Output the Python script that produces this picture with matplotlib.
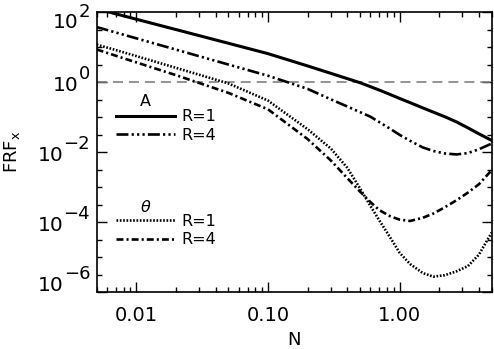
import matplotlib
matplotlib.use("Agg")
import matplotlib.pyplot as plt
import numpy as np
from matplotlib.ticker import FixedLocator, FixedFormatter, NullFormatter, LogLocator

plt.rcParams["font.family"] = ["DejaVu Sans"]
plt.rcParams["lines.scale_dashes"] = False

# frequency N
n_vals = [0.005, 0.007, 0.01, 0.02, 0.05, 0.1, 0.2, 0.3, 0.4, 0.5, 0.6, 0.7,
          0.85, 1.0, 1.2, 1.5, 1.8, 2.2, 2.7, 3.3, 4.0, 5.0]

# FRF_x
amp_r1 = [123, 88.5, 62.2, 31.5, 12.8, 6.46, 2.88, 1.77, 1.25, 0.955, 0.736, 0.589,
          0.437, 0.339, 0.257, 0.182, 0.138, 0.102, 0.0724, 0.049, 0.0331, 0.0214]
amp_r4 = [37.2, 25.9, 17.7, 8.43, 3.16, 1.51, 0.637, 0.32, 0.20, 0.138, 0.102, 0.0716,
          0.0457, 0.0309, 0.0209, 0.0135, 0.0107, 0.00912, 0.00851, 0.00933, 0.0120, 0.0174]
theta_r1 = [11.7, 8.17, 5.50, 2.54, 0.912, 0.295, 0.0447, 0.0126, 3.55e-3, 9.12e-4,
            2.88e-4, 1.12e-4, 3.55e-5, 1.32e-5, 6.31e-6, 3.47e-6, 2.75e-6, 3.02e-6,
            3.89e-6, 5.5e-6, 1.17e-5, 5.0e-5]
theta_r4 = [8.51, 5.62, 3.63, 1.57, 0.49, 0.166, 0.0234, 5.75e-3, 1.80e-3, 7.41e-4,
            3.72e-4, 2.19e-4, 1.45e-4, 1.17e-4, 1.07e-4, 1.32e-4, 1.74e-4, 2.63e-4,
            4.17e-4, 6.92e-4, 1.20e-3, 3.02e-3]

ref_level = 1.0
x_ticks = [0.01, 0.1, 1.0]
x_tick_labels = ["0.01", "0.10", "1.00"]
y_exps = [2, 0, -2, -4, -6]

fig = plt.figure(figsize=(4.94, 3.49), dpi=100)
ax = fig.add_axes([0.1957, 0.1633, 0.7996, 0.8023])

ax.axhline(ref_level, color="0.5", lw=1.2, dashes=(7.2, 4.3))
l_a1, = ax.plot(n_vals, amp_r1, color="k", lw=2.2)
l_a4, = ax.plot(n_vals, amp_r4, color="k", lw=1.9,
                dashes=(8.6, 2.3, 1.6, 2.3, 1.6, 2.3, 1.6, 2.3))
l_t1, = ax.plot(n_vals, theta_r1, color="k", lw=1.9, dashes=(1.2, 1.2))
l_t4, = ax.plot(n_vals, theta_r4, color="k", lw=1.9, dashes=(5.0, 2.2, 1.5, 2.2))

ax.set_xscale("log")
ax.set_yscale("log")
ax.set_xlim(0.005, 5)
ax.set_ylim(1e-6, 1e2)

ax.xaxis.set_major_locator(FixedLocator(x_ticks))
ax.xaxis.set_major_formatter(FixedFormatter(x_tick_labels))
ax.xaxis.set_minor_locator(LogLocator(base=10, subs=np.arange(2, 10)))
ax.xaxis.set_minor_formatter(NullFormatter())

ax.yaxis.set_major_locator(FixedLocator([10.0 ** e for e in y_exps]))
ax.yaxis.set_major_formatter(NullFormatter())
ax.yaxis.set_minor_locator(FixedLocator(10.0 ** np.arange(-6, 2.01, 0.5)))
ax.yaxis.set_minor_formatter(NullFormatter())

ax.tick_params(which="both", direction="in", top=True, right=True, width=1.0,
               labelsize=14)
ax.tick_params(which="major", length=7)
ax.tick_params(which="minor", length=3.5)
ax.tick_params(axis="x", which="major", pad=10)
for sp in ax.spines.values():
    sp.set_linewidth(1.2)

# y tick labels written as 10 with a large raised exponent
for e in y_exps:
    shift = {2: -7.5, -6: 10}.get(e, 0)
    exp_txt = ax.annotate(str(e).replace("-", "\u2212"), xy=(0, 10.0 ** e),
                          xycoords=("axes fraction", "data"),
                          xytext=(-6.5, 8 + shift), textcoords="offset pixels",
                          ha="right", va="center", fontsize=13)
    ax.annotate("10", xy=(0, 0.5), xycoords=exp_txt, xytext=(0, -11),
                textcoords="offset pixels", ha="right", va="center", fontsize=14.5)

ax.set_xlabel("N", fontsize=13)
ax.xaxis.set_label_coords(0.5, -0.138)
ax.set_ylabel(r"FRF$_\mathregular{x}$", fontsize=13)
ax.yaxis.set_label_coords(-0.190, 0.5)

leg_kw = dict(frameon=False, handlelength=3.7, handletextpad=0.4, labelspacing=0.22,
              borderpad=0, borderaxespad=0, fontsize=11.5, loc="center left")
leg1 = ax.legend([l_a1, l_a4], ["R=1", "R=4"], bbox_to_anchor=(0.049, 0.593), **leg_kw)
ax.add_artist(leg1)
ax.legend([l_t1, l_t4], ["R=1", "R=4"], bbox_to_anchor=(0.049, 0.220), **leg_kw)
ax.text(0.1235, 0.6796, "A", transform=ax.transAxes, ha="center", va="center",
        fontsize=11.5)
ax.text(0.1235, 0.3046, r"$\theta$", transform=ax.transAxes, ha="center", va="center",
        fontsize=11.5)

fig.savefig("out.png", dpi=100)
